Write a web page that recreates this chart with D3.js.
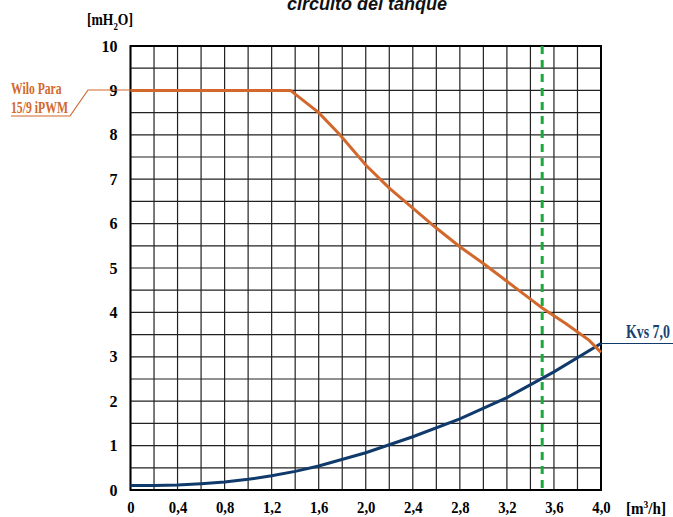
<!DOCTYPE html>
<html><head><meta charset="utf-8">
<script src="https://cdn.jsdelivr.net/npm/d3@7"></script>
<style>body{margin:0;background:#fff}svg{display:block}</style>
</head><body>
<svg id="c" width="673" height="517"></svg>
<script>
const title = "circuito del tanque";
const xTickValues = [0,0.4,0.8,1.2,1.6,2.0,2.4,2.8,3.2,3.6,4.0];
const yTickValues = [0,1,2,3,4,5,6,7,8,9,10];
const pumpName = ["Wilo Para","15/9 iPWM"];
const pumpFlow = [0,1.36,1.6,1.78,2.0,2.2,2.4,2.6,2.8,3.0,3.2,3.4,3.5,3.7,3.9,4.0];
const pumpHead = [9,9,8.5,8.0,7.32,6.8,6.35,5.9,5.48,5.1,4.7,4.3,4.1,3.75,3.37,3.1];
const kvsName = "Kvs 7,0";
const kvsFlow = [0,0.2,0.4,0.6,0.8,1.0,1.2,1.4,1.6,2.0,2.4,2.8,3.2,3.6,4.0];
const kvsHead = [0.1,0.1,0.11,0.14,0.18,0.24,0.32,0.42,0.54,0.84,1.2,1.6,2.08,2.66,3.3];
const designFlow = 3.5;

const svg = d3.select("#c");
const x = d3.scaleLinear().domain([0,4]).range([130.5,601]);
const y = d3.scaleLinear().domain([0,10]).range([490,46]);
const serif = "Liberation Serif, Times New Roman, serif";

// places a text at (px,py) and squeezes it horizontally to width w
function fitText(sel, px, py, w){
  const n = sel.node();
  const len = n.getComputedTextLength ? n.getBBox().width : w;
  const s = len > 0 ? w/len : 1;
  sel.attr("x",0).attr("y",0).attr("transform",`translate(${px},${py}) scale(${s},1)`);
  return sel;
}

// title
svg.append("text").attr("x",367).attr("y",10).attr("text-anchor","middle")
  .attr("font-family","Liberation Sans, Arial, sans-serif").attr("font-weight","bold")
  .attr("font-style","italic").attr("font-size",18).attr("fill","#111").text(title);

// grid
const g = svg.append("g");
g.selectAll("line.v").data(d3.range(0,21).map(i=>i*0.2)).enter().append("line")
  .attr("x1",d=>x(d)).attr("x2",d=>x(d)).attr("y1",y(10)).attr("y2",y(0))
  .attr("stroke","#222").attr("stroke-width",1.2);
g.selectAll("line.h").data(d3.range(0,21).map(i=>i*0.5)).enter().append("line")
  .attr("x1",x(0)).attr("x2",x(4)).attr("y1",d=>y(d)).attr("y2",d=>y(d))
  .attr("stroke","#222").attr("stroke-width",1.2);
g.append("rect").attr("x",x(0)).attr("y",y(10)).attr("width",x(4)-x(0)).attr("height",y(0)-y(10))
  .attr("fill","none").attr("stroke","#000").attr("stroke-width",2);

// axes
const xa = svg.append("g").attr("transform",`translate(0,${y(0)})`)
  .call(d3.axisBottom(x).tickValues(xTickValues).tickSize(0).tickPadding(12)
    .tickFormat(d=> d===0 ? "0" : d3.format(".1f")(d).replace(".",",")));
xa.select(".domain").remove();
xa.selectAll("text").attr("font-family",serif).attr("font-weight","bold").attr("font-size",16).attr("fill","#000")
  .attr("transform","scale(0.92,1)");
const ya = svg.append("g").attr("transform",`translate(${x(0)},0)`)
  .call(d3.axisLeft(y).tickValues(yTickValues).tickSize(0).tickPadding(13).tickFormat(d3.format("d")));
ya.select(".domain").remove();
ya.selectAll("text").attr("font-family",serif).attr("font-weight","bold").attr("font-size",16).attr("fill","#000");

// unit labels
const yl = svg.append("text").attr("font-family",serif)
  .attr("font-weight","bold").attr("font-size",17).attr("fill","#000");
yl.append("tspan").text("[mH");
yl.append("tspan").attr("dy",5).attr("font-size",11).text("2");
yl.append("tspan").attr("dy",-5).text("O]");
fitText(yl, 87, 25, 46);
const xl = svg.append("text").attr("font-family",serif)
  .attr("font-weight","bold").attr("font-size",16).attr("fill","#000");
xl.append("tspan").text("[m");
xl.append("tspan").attr("dy",-6).attr("font-size",10).text("3");
xl.append("tspan").attr("dy",6).text("/h]");
fitText(xl, 626, 514, 40);

// design line
svg.append("line").attr("x1",x(designFlow)).attr("x2",x(designFlow)).attr("y1",y(10)).attr("y2",y(0))
  .attr("stroke","#1aaa3c").attr("stroke-width",3).attr("stroke-dasharray","8,6");

const line = d3.line().x(d=>x(d[0])).y(d=>y(d[1]));
const orange = "#d2682c", blue = "#0f3a6b";
svg.append("path").attr("d",line(d3.zip(kvsFlow,kvsHead))).attr("fill","none")
  .attr("stroke",blue).attr("stroke-width",3);
svg.append("path").attr("d",line(d3.zip(pumpFlow,pumpHead))).attr("fill","none")
  .attr("stroke",orange).attr("stroke-width",3);

// pump legend leader
svg.append("path").attr("d",`M11,116 L70,116 L88,90 L${x(0)},90`).attr("fill","none")
  .attr("stroke",orange).attr("stroke-width",1.2);
pumpName.forEach((t,i)=>{
  const tx = svg.append("text").attr("font-family",serif).attr("font-weight","bold")
    .attr("font-size",17).attr("fill",orange).text(t);
  fitText(tx, 11, 94+i*18.5, i?57:51);
});

// kvs leader
const kEnd = [kvsFlow[kvsFlow.length-1], kvsHead[kvsHead.length-1]];
svg.append("line").attr("x1",x(kEnd[0])).attr("x2",673).attr("y1",y(kEnd[1])).attr("y2",y(kEnd[1]))
  .attr("stroke",blue).attr("stroke-width",1.2);
const kt = svg.append("text").attr("font-family",serif)
  .attr("font-weight","bold").attr("font-size",18).attr("fill","#1a3f70").text(kvsName);
fitText(kt, 626, y(kEnd[1])-5, 44);
</script>
</body></html>
